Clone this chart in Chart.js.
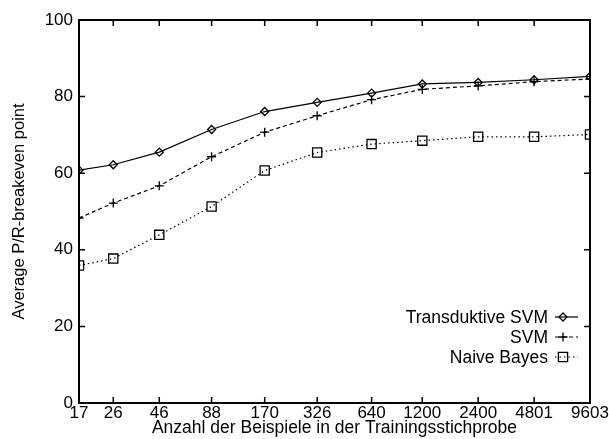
<!DOCTYPE html>
<html>
<head>
<meta charset="utf-8">
<script src="https://cdn.jsdelivr.net/npm/chart.js@4"></script>
<style>
  html, body { margin: 0; padding: 0; background: #fff; }
  #wrap { width: 609px; height: 439px; }
</style>
</head>
<body>
<div id="wrap"><canvas id="grafica" width="609" height="439"></canvas></div>
<script>
// Anzahl der Beispiele (x, log)
var beispiele = [17, 26, 46, 88, 170, 326, 640, 1200, 2400, 4801, 9603];
var yTicks = [0, 20, 40, 60, 80, 100];

var transduktiv = [60.8, 62.2, 65.5, 71.4, 76.1, 78.5, 80.9, 83.3, 83.7, 84.4, 85.3];
var svm = [48.3, 52.2, 56.7, 64.3, 70.7, 75.0, 79.2, 81.9, 82.8, 83.9, 84.6];
var naiveBayes = [35.9, 37.7, 43.9, 51.3, 60.7, 65.4, 67.6, 68.5, 69.5, 69.5, 70.1];

var serien = [
  { label: 'Transduktive SVM', data: transduktiv, dash: [], style: 'rectRot', r: 4 },
  { label: 'SVM', data: svm, dash: [4, 3], style: 'cross', r: 4.5 },
  { label: 'Naive Bayes', data: naiveBayes, dash: [1.5, 3], style: 'rect', r: 6.5 }
];

var fuente = 'Liberation Sans, Arial, Helvetica, sans-serif';

function punkte(arr) {
  return arr.map(function (v, i) { return { x: beispiele[i], y: v }; });
}

var datasets = serien.map(function (s) {
  return {
    label: s.label,
    data: punkte(s.data),
    borderColor: '#000',
    borderWidth: 1.2,
    borderDash: s.dash,
    backgroundColor: 'rgba(0,0,0,0)',
    pointStyle: s.style,
    pointRadius: s.r,
    pointBorderWidth: 1.3,
    pointBorderColor: '#000',
    pointBackgroundColor: 'rgba(0,0,0,0)',
    tension: 0
  };
});

// Rahmen, Ticks nach innen und Legende
var rahmen = {
  id: 'rahmen',
  afterDraw: function (chart) {
    var c = chart.ctx;
    var a = chart.chartArea;
    var xs = chart.scales.x, ys = chart.scales.y;
    c.save();
    c.strokeStyle = '#000';
    c.lineWidth = 1.5;
    c.setLineDash([]);
    beispiele.forEach(function (v) {
      var px = xs.getPixelForValue(v);
      c.beginPath();
      c.moveTo(px, a.bottom); c.lineTo(px, a.bottom - 6);
      c.moveTo(px, a.top); c.lineTo(px, a.top + 6);
      c.stroke();
    });
    yTicks.forEach(function (v) {
      var py = ys.getPixelForValue(v);
      c.beginPath();
      c.moveTo(a.left, py); c.lineTo(a.left + 6, py);
      c.moveTo(a.right, py); c.lineTo(a.right - 6, py);
      c.stroke();
    });
    c.lineWidth = 2;
    c.strokeRect(a.left, a.top, a.right - a.left, a.bottom - a.top);

    // Legende
    c.font = '17.5px ' + fuente;
    c.textAlign = 'right';
    c.textBaseline = 'middle';
    var ly = [317, 337, 357];
    serien.forEach(function (s, i) {
      c.fillStyle = '#000';
      c.fillText(s.label, 548, ly[i] + 1);
      c.lineWidth = 1.2;
      c.setLineDash(s.dash);
      c.beginPath();
      c.moveTo(555, ly[i]); c.lineTo(578, ly[i]);
      c.stroke();
      c.setLineDash([]);
      c.lineWidth = 1.3;
      c.fillStyle = 'rgba(0,0,0,0)';
      Chart.helpers.drawPoint(c, { pointStyle: s.style, radius: s.r, borderWidth: 1.3, rotation: 0 }, 563, ly[i]);
    });
    c.restore();
  }
};

var ctx = document.getElementById('grafica').getContext('2d');
var grafica = new Chart(ctx, {
  type: 'line',
  data: { datasets: datasets },
  options: {
    responsive: false,
    animation: false,
    devicePixelRatio: 1,
    layout: { padding: { top: 20, right: 19, left: 0, bottom: 0 } },
    plugins: { legend: { display: false }, tooltip: { enabled: false } },
    scales: {
      x: {
        type: 'logarithmic',
        min: 17,
        max: 9603,
        afterBuildTicks: function (scale) {
          scale.ticks = beispiele.map(function (v) { return { value: v }; });
        },
        afterFit: function (scale) { scale.height = 36; },
        grid: { display: false, drawTicks: false },
        border: { display: false },
        ticks: {
          autoSkip: false, maxRotation: 0, padding: 0,
          color: '#000', font: { family: fuente, size: 17 },
          callback: function (v) { return String(v); }
        },
        title: {
          display: true, text: 'Anzahl der Beispiele in der Trainingsstichprobe',
          color: '#000', font: { family: fuente, size: 17.5 }, padding: 0
        }
      },
      y: {
        min: 0,
        max: 100,
        afterBuildTicks: function (scale) {
          scale.ticks = yTicks.map(function (v) { return { value: v }; });
        },
        afterFit: function (scale) { scale.width = 79; },
        grid: { display: false, drawTicks: false },
        border: { display: false },
        ticks: { padding: 6, color: '#000', font: { family: fuente, size: 17 } },
        title: {
          display: true, text: 'Average P/R-breakeven point',
          color: '#000', font: { family: fuente, size: 16.5 }, padding: { top: 10, bottom: 0 }
        }
      }
    }
  },
  plugins: [rahmen]
});
</script>
</body>
</html>
